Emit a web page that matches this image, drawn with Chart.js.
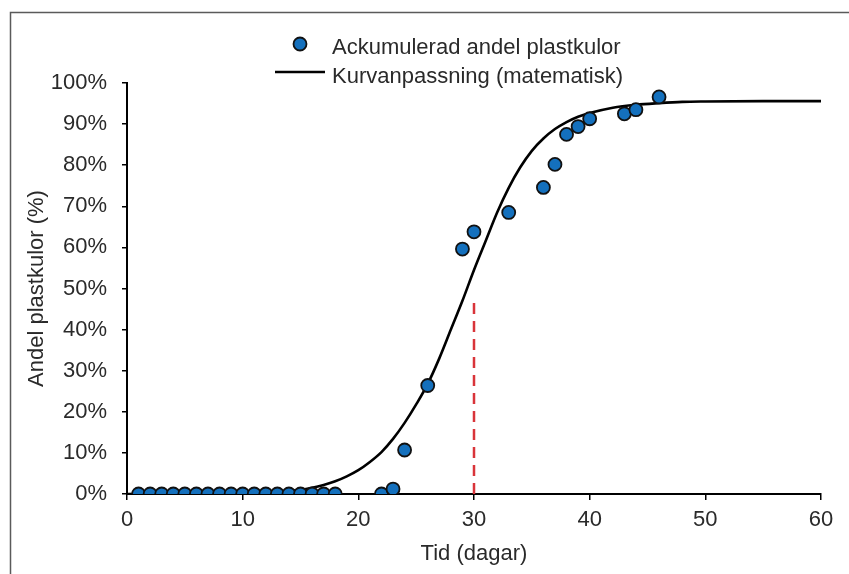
<!DOCTYPE html>
<html lang="sv">
<head>
<meta charset="utf-8">
<title>Ackumulerad andel plastkulor</title>
<script src="https://cdn.jsdelivr.net/npm/chart.js@4"></script>
<style>
  html, body { margin: 0; padding: 0; background: #fff; }
  canvas { display: block; }
</style>
</head>
<body>
<canvas id="js--chart" width="849" height="574"></canvas>
<script>
// mätpunkter: dag och ackumulerad andel (%)
const dagar = [1, 2, 3, 4, 5, 6, 7, 8, 9, 10, 11, 12, 13, 14, 15, 16, 17, 18,
    22, 23, 24, 26, 29, 30, 33, 36, 37, 38, 39, 40, 43, 44, 46];
const andel = [0, 0, 0, 0, 0, 0, 0, 0, 0, 0, 0, 0, 0, 0, 0, 0, 0, 0,
    0, 1.2, 10.7, 26.4, 59.6, 63.8, 68.5, 74.6, 80.2, 87.5, 89.4, 91.3, 92.5, 93.5, 96.6];

// kurvanpassningen avläst i punkter
const kurvaX = [0, 5, 10, 13, 15, 16, 17, 18, 19, 20, 21, 22, 23, 24, 25, 26, 27, 28, 29, 30,
    31, 32, 33, 34, 35, 36, 37, 38, 39, 40, 42, 44, 46, 48, 50, 55, 60];
const kurvaY = [0, 0.1, 0.2, 0.5, 1.0, 1.5, 2.2, 3.1, 4.3, 5.8, 7.8, 10.2, 13.4, 17.3, 21.8, 26.8, 33, 40, 47, 54.5,
    61.5, 68.5, 74.5, 79.5, 83.5, 86.5, 88.8, 90.5, 91.8, 92.7, 94, 94.7, 95.1, 95.4, 95.5, 95.6, 95.6];

// röd streckad markering vid dag 30
const markeringX = [30, 30];
const markeringY = [0, 47];

const xTicks = [0, 10, 20, 30, 40, 50, 60];
const yTicks = [0, 10, 20, 30, 40, 50, 60, 70, 80, 90, 100];

const legendNamn = ["Ackumulerad andel plastkulor", "Kurvanpassning (matematisk)"];

const textFarg = "#2a2a2a";
const punktFarg = "#1470bd";

Chart.defaults.font.family = "'Liberation Sans', Arial, sans-serif";
Chart.defaults.font.size = 22;
Chart.defaults.color = textFarg;

const toPoints = (xs, ys) => xs.map((x, i) => ({x: x, y: ys[i]}));

// ram runt hela figuren + egen legend i två rader
const ramOchLegend = {
    id: "ramOchLegend",
    beforeDraw(chart) {
        const ctx = chart.ctx;
        ctx.save();
        ctx.fillStyle = "#fff";
        ctx.fillRect(0, 0, chart.width, chart.height);
        ctx.strokeStyle = "#5a5a5a";
        ctx.lineWidth = 1.5;
        ctx.strokeRect(10.5, 12.5, 900, 700);
        ctx.restore();
    },
    afterDraw(chart) {
        const ctx = chart.ctx;
        ctx.save();
        ctx.font = "22px 'Liberation Sans', Arial, sans-serif";
        ctx.fillStyle = textFarg;
        ctx.textBaseline = "middle";
        ctx.textAlign = "left";

        ctx.beginPath();
        ctx.arc(300, 44, 6.5, 0, Math.PI * 2);
        ctx.fillStyle = punktFarg;
        ctx.fill();
        ctx.lineWidth = 1.8;
        ctx.strokeStyle = "#111";
        ctx.stroke();

        ctx.fillStyle = textFarg;
        ctx.fillText(legendNamn[0], 332, 48);

        ctx.beginPath();
        ctx.moveTo(275, 72);
        ctx.lineTo(325, 72);
        ctx.lineWidth = 2.5;
        ctx.strokeStyle = "#000";
        ctx.stroke();

        ctx.fillText(legendNamn[1], 332, 77);
        ctx.restore();
    }
};

const data = {
    datasets: [
        {
            type: "scatter",
            label: legendNamn[0],
            data: toPoints(dagar, andel),
            backgroundColor: punktFarg,
            borderColor: "#111",
            borderWidth: 1.8,
            pointRadius: 6.5,
            order: 0
        },
        {
            type: "line",
            label: legendNamn[1],
            data: toPoints(kurvaX, kurvaY),
            borderColor: "#000",
            borderWidth: 2.6,
            pointRadius: 0,
            cubicInterpolationMode: "monotone",
            fill: false,
            order: 1
        },
        {
            type: "line",
            label: "dag 30",
            data: toPoints(markeringX, markeringY),
            borderColor: "#d9343a",
            borderWidth: 2.5,
            borderDash: [11, 7],
            pointRadius: 0,
            fill: false,
            order: 2
        }
    ]
};

const config = {
    type: "scatter",
    data: data,
    options: {
        responsive: false,
        animation: false,
        layout: {
            padding: {left: 20, right: 28, top: 83, bottom: 0}
        },
        plugins: {
            legend: {display: false},
            tooltip: {enabled: false}
        },
        scales: {
            x: {
                type: "linear",
                min: 0,
                max: 60,
                afterBuildTicks: (axis) => { axis.ticks = xTicks.map(v => ({value: v})); },
                afterFit: (axis) => { axis.height = 80; },
                border: {display: true, color: "#000", width: 2},
                grid: {drawOnChartArea: false, drawTicks: true, tickLength: 6, color: "#000", lineWidth: 1.5},
                ticks: {padding: 7, color: textFarg, maxRotation: 0},
                title: {display: true, text: "Tid (dagar)", color: textFarg, padding: {top: 0, bottom: 7}}
            },
            y: {
                type: "linear",
                min: 0,
                max: 100,
                afterBuildTicks: (axis) => { axis.ticks = yTicks.map(v => ({value: v})); },
                afterFit: (axis) => { axis.width = 107; },
                border: {display: true, color: "#000", width: 2},
                grid: {drawOnChartArea: false, drawTicks: true, tickLength: 5, color: "#000", lineWidth: 1.5},
                ticks: {padding: 15, color: textFarg, callback: (v) => v + "%"},
                title: {display: true, text: "Andel plastkulor (%)", color: textFarg, padding: {top: 4, bottom: 4}}
            }
        }
    },
    plugins: [ramOchLegend]
};

new Chart(document.getElementById("js--chart"), config);
</script>
</body>
</html>
